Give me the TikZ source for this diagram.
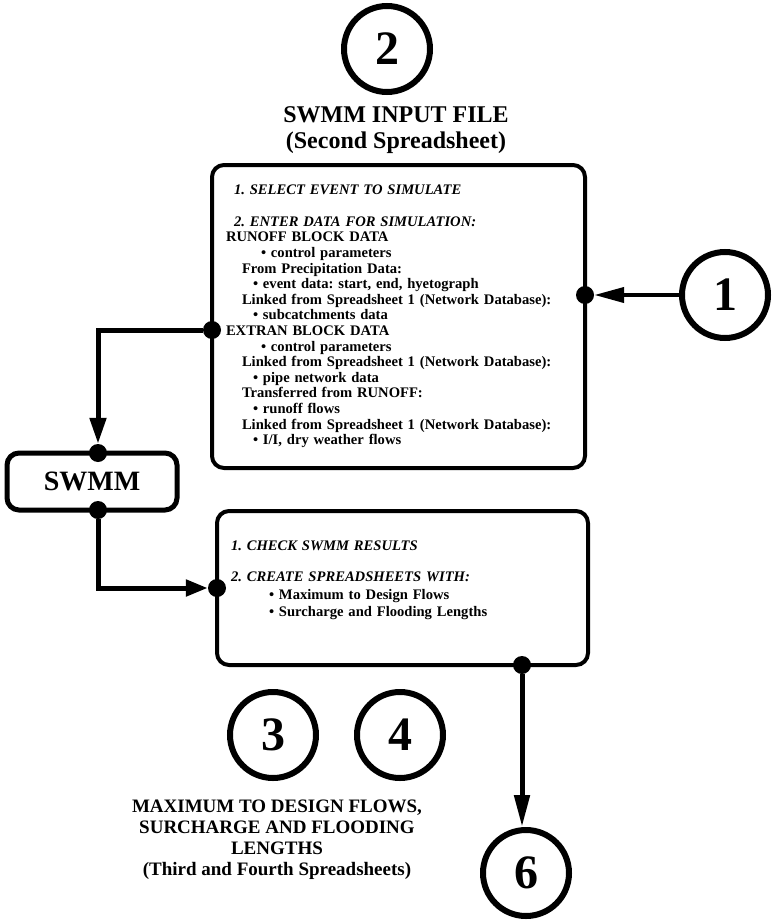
\documentclass[tikz,border=0pt]{standalone}
\usepackage{fontspec}
\setmainfont{Liberation Serif}
\frenchspacing
\usetikzlibrary{arrows.meta,positioning}

\begin{document}
\begin{tikzpicture}[x=1pt,y=-1pt,>={Triangle[length=26pt,width=16pt]},
    numcirc/.style={draw,circle,line width=6pt,minimum size=86pt,inner sep=0pt,
      font=\fontsize{48}{48}\selectfont\bfseries},
    panel/.style={draw,line width=4pt,rounded corners=12pt,align=left,inner xsep=14pt,
      font=\fontsize{14.6}{15.6}\selectfont\bfseries},
    dot/.style={circle,fill,inner sep=0pt,minimum size=18pt},
    link/.style={->,line width=5pt}]
  \useasboundingbox (0,0) rectangle (772,923);
  \node[numcirc] (c2) at (387,49) {2};
  \node[align=center,font=\fontsize{24}{26}\selectfont\bfseries] (title) at (396,130)
    {SWMM INPUT FILE\\(Second Spreadsheet)};
  \node[panel,minimum width=373pt,minimum height=303pt,text width=345pt] (input) at (398.5,316.5) {%
    \hspace*{8pt}\textit{1. SELECT EVENT TO SIMULATE}\\[16pt]
    \hspace*{8pt}\textit{2. ENTER DATA FOR SIMULATION:}\\
    RUNOFF BLOCK DATA\\
    \hspace*{35pt}\textbullet\ control parameters\\
    \hspace*{16pt}From Precipitation Data:\\
    \hspace*{27pt}\textbullet\ event data: start, end, hyetograph\\
    \hspace*{16pt}Linked from Spreadsheet 1 (Network Database):\\
    \hspace*{27pt}\textbullet\ subcatchments data\\
    EXTRAN BLOCK DATA\\
    \hspace*{35pt}\textbullet\ control parameters\\
    \hspace*{16pt}Linked from Spreadsheet 1 (Network Database):\\
    \hspace*{27pt}\textbullet\ pipe network data\\
    \hspace*{16pt}Transferred from RUNOFF:\\
    \hspace*{27pt}\textbullet\ runoff flows\\
    \hspace*{16pt}Linked from Spreadsheet 1 (Network Database):\\
    \hspace*{27pt}\textbullet\ I/I, dry weather flows};
  \node[numcirc] (c1) at (725,295) {1};
  \node[dot] (d1) at (585,295) {};
  \draw[->,line width=4pt,>={Triangle[length=30pt,width=15pt]}] (c1) -- (d1);
  \node[draw,line width=5pt,rounded corners=12pt,minimum width=170pt,minimum height=57pt,
    font=\fontsize{28}{28}\selectfont\bfseries] (swmm) at (92,481.5) {SWMM};
  \node[dot] (d2) at (212,330) {};
  \node[dot] (d3) at (98,453) {};
  \node[dot] (d4) at (98,510) {};
  \draw[link] (d2) -| (d3);
  \node[panel,minimum width=371pt,minimum height=154pt,text width=343pt] (check) at (402.5,588) {%
    \textit{1. CHECK SWMM RESULTS}\\[16pt]
    \textit{2. CREATE SPREADSHEETS WITH:}\\[2pt]
    \hspace*{38pt}\textbullet\ Maximum to Design Flows\\[2pt]
    \hspace*{38pt}\textbullet\ Surcharge and Flooding Lengths\\[3pt]\mbox{}};
  \node[dot] (d5) at (217,588) {};
  \draw[link,>={Triangle[length=22pt,width=16pt]}] (d4) |- (d5);
  \node[numcirc] (c3) at (273,735) {3};
  \node[numcirc] (c4) at (400,735) {4};
  \node[align=center,font=\fontsize{19}{21}\selectfont\bfseries] (out) at (277,840)
    {MAXIMUM TO DESIGN FLOWS,\\SURCHARGE AND FLOODING\\LENGTHS\\(Third and Fourth Spreadsheets)};
  \node[dot] (d6) at (522,665) {};
  \node[numcirc] (c6) at (526,873) {6};
  \draw[link,>={Triangle[length=32pt,width=15pt]}] (d6) -- (d6 |- c6.north);
\end{tikzpicture}
\end{document}
